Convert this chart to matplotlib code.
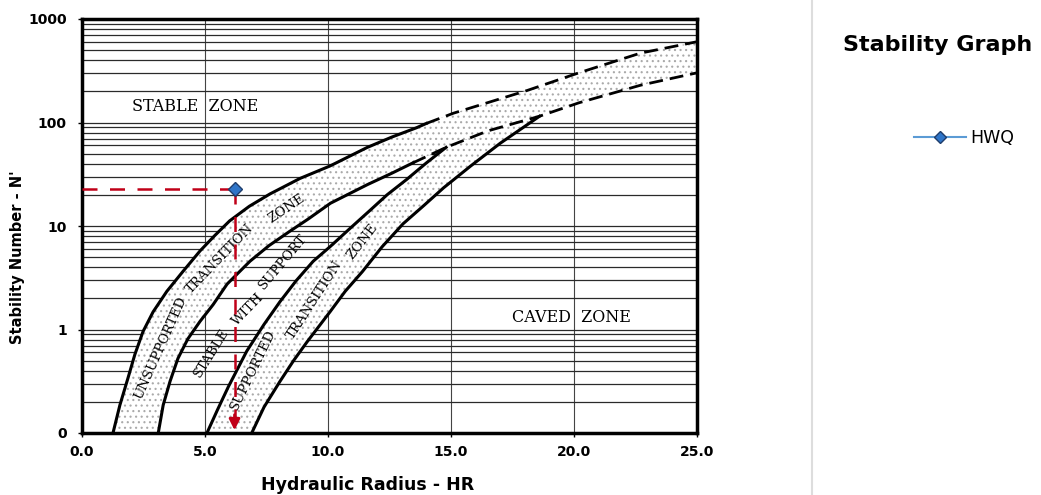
"""Mathews stability graph with the HWQ design point."""
import matplotlib

matplotlib.use("Agg")
import matplotlib.pyplot as plt
import numpy as np
from matplotlib.lines import Line2D
from matplotlib.ticker import FixedLocator, FixedFormatter, LogLocator, NullFormatter

# --- data ------------------------------------------------------------------
# unsupported transition zone, upper/left boundary (solid part)
C1_HR = [1.26, 1.54, 1.87, 2.15, 2.48, 2.89, 3.45, 4.1, 4.8, 5.4, 6.0, 6.8,
         7.64, 8.86, 10.08, 11.6, 12.6, 13.6, 14.0]
C1_N = [0.1, 0.186, 0.34, 0.575, 0.955, 1.48, 2.34, 3.63, 5.75, 8.1, 11.2, 15.5,
        20.4, 28.8, 38, 57.5, 72.4, 89, 98]
# its dashed extrapolation
C1X_HR = [14.0, 15.1, 18.1, 20.2, 22.7, 25.0]
C1X_N = [98, 123, 204, 302, 468, 603]
# unsupported transition zone, lower/right boundary (solid part)
C2_HR = [3.1, 3.3, 3.58, 3.9, 4.3, 4.8, 5.33, 5.9, 6.83, 7.6, 8.45, 9.2, 10.1,
         11.6, 12.6, 13.45]
C2_N = [0.1, 0.186, 0.316, 0.525, 0.81, 1.2, 1.74, 2.75, 4.57, 6.46, 8.9, 11.7,
        16.6, 25.1, 32.4, 40.7]
# its dashed extrapolation
C2X_HR = [13.45, 14.8, 16.5, 18.6, 20.2, 22.7, 25.0]
C2X_N = [40.7, 57.5, 83, 115, 155, 229, 302]
# supported transition zone, left boundary
C3_HR = [5.08, 5.5, 5.95, 6.7, 7.4, 8.05, 8.7, 9.4, 10.08, 10.9, 11.7, 12.4,
         13.2, 14.0, 14.8]
C3_N = [0.1, 0.166, 0.28, 0.62, 1.12, 1.86, 2.95, 4.57, 6.3, 9.5, 14.1, 20,
        28.2, 40.7, 57.5]
# supported transition zone, right boundary
C4_HR = [6.9, 7.4, 8.05, 8.6, 9.15, 10.08, 10.7, 11.4, 12.2, 13.05, 13.9, 14.7,
         15.8, 17.0, 18.6]
C4_N = [0.1, 0.178, 0.316, 0.5, 0.76, 1.48, 2.34, 3.63, 6.3, 10.5, 15.8, 23.4,
        38, 63, 115]

HWQ_HR = [6.2]
HWQ_N = [23]

X_TICKS = [0, 5, 10, 15, 20, 25]
X_TICK_LABELS = ["0.0", "5.0", "10.0", "15.0", "20.0", "25.0"]
Y_TICKS = [0.1, 1, 10, 100, 1000]
Y_TICK_LABELS = ["0", "1", "10", "100", "1000"]

RED = "#c00018"
STIPPLE = "#aaaaaa"
SERIF = ["DejaVu Serif"]

plt.rcParams["font.family"] = ["DejaVu Sans"]
plt.rcParams["hatch.linewidth"] = 0.8

fig = plt.figure(figsize=(10.41, 4.95), dpi=100)
ax = fig.add_axes([82 / 1041, 1 - 433 / 495, 615 / 1041, 414 / 495])
ax.set_yscale("log")
ax.set_xlim(0, 25)
ax.set_ylim(0.1, 1000)

# grid like the scanned chart paper
ax.yaxis.set_minor_locator(LogLocator(base=10, subs=np.arange(2, 10)))
ax.yaxis.set_minor_formatter(NullFormatter())
ax.grid(True, which="both", axis="y", color="#2a2a2a", lw=0.9)
ax.grid(True, which="major", axis="x", color="#444444", lw=0.8)
ax.set_axisbelow(True)

# stippled bands
unsup_x = np.concatenate([C1_HR, C1X_HR[1:], C2X_HR[::-1], C2_HR[-2::-1]])
unsup_y = np.concatenate([C1_N, C1X_N[1:], C2X_N[::-1], C2_N[-2::-1]])
ax.fill(unsup_x, unsup_y, facecolor="white", edgecolor=STIPPLE, hatch="...",
        lw=0, zorder=2)
lo = [i for i, v in enumerate(C2X_HR) if C3_HR[-1] < v <= C4_HR[-1]]
sup_x = np.concatenate([C3_HR, [C2X_HR[i] for i in lo], C4_HR[::-1]])
sup_y = np.concatenate([C3_N, [C2X_N[i] for i in lo], C4_N[::-1]])
ax.fill(sup_x, sup_y, facecolor="white", edgecolor=STIPPLE, hatch="...",
        lw=0, zorder=2)

# boundaries
for hr, n in [(C1_HR, C1_N), (C2_HR, C2_N), (C3_HR, C3_N), (C4_HR, C4_N)]:
    ax.plot(hr, n, color="black", lw=2.2, solid_joinstyle="round", zorder=3)
for hr, n in [(C1X_HR, C1X_N), (C2X_HR, C2X_N)]:
    ax.plot(hr, n, color="black", lw=2.0, dashes=(5, 2.5), zorder=3)

# zone labels (serif, like the scanned chart)
ax.text(4.6, 143, "STABLE  ZONE", family=SERIF, fontsize=11.5,
        ha="center", va="center", zorder=4)
ax.text(19.9, 1.31, "CAVED  ZONE", family=SERIF, fontsize=11.5,
        ha="center", va="center", zorder=4)
words = [
    (3.21, 0.66, "UNSUPPORTED", 66), (5.61, 4.8, "TRANSITION", 46),
    (8.3, 14.9, "ZONE", 34),
    (5.28, 0.59, "STABLE", 58), (6.75, 1.56, "WITH", 46), (8.17, 4.5, "SUPPORT", 50),
    (6.95, 0.41, "SUPPORTED", 64), (9.47, 1.95, "TRANSITION", 57),
    (11.4, 7.1, "ZONE", 52),
]
for x, y, s, rot in words:
    ax.text(x, y, s, rotation=rot, family=SERIF, fontsize=9.5,
            ha="center", va="center", rotation_mode="anchor", zorder=4)

# HWQ design point with red guide lines
ax.plot([0, HWQ_HR[0]], [HWQ_N[0], HWQ_N[0]], color=RED, lw=1.8,
        dashes=(6, 5), zorder=5)
ax.plot([HWQ_HR[0], HWQ_HR[0]], [HWQ_N[0], 0.13], color=RED, lw=1.8,
        dashes=(6, 5), zorder=5)
ax.annotate("", xy=(HWQ_HR[0], 0.1), xytext=(HWQ_HR[0], 0.16),
            arrowprops=dict(arrowstyle="-|>", color=RED, lw=2,
                            mutation_scale=16), zorder=5)
ax.plot(HWQ_HR, HWQ_N, marker="D", ms=7, color="#5b9bd5", mfc="#2f75c8",
        mec="#1f3d6b", lw=1.5, zorder=6)

# axes styling
for sp in ax.spines.values():
    sp.set_linewidth(2.5)
ax.xaxis.set_major_locator(FixedLocator(X_TICKS))
ax.xaxis.set_major_formatter(FixedFormatter(X_TICK_LABELS))
ax.yaxis.set_major_locator(FixedLocator(Y_TICKS))
ax.yaxis.set_major_formatter(FixedFormatter(Y_TICK_LABELS))
ax.tick_params(which="major", length=3, width=1, labelsize=10)
ax.tick_params(axis="y", pad=8)
ax.tick_params(axis="x", pad=6)
ax.tick_params(which="minor", length=0)
for lab in ax.get_xticklabels() + ax.get_yticklabels():
    lab.set_fontweight("bold")

ax.set_xlabel("Hydraulic Radius - HR", fontsize=12.5, fontweight="bold")
ax.xaxis.set_label_coords((368 - 82) / 615, -0.104)
ax.set_ylabel("Stability Number - N'", fontsize=10.5, fontweight="bold")
ax.yaxis.set_label_coords(-0.092, 1 - (257 - 19) / 414)

# right-hand panel: separator, title, legend
fig.add_artist(Line2D([812 / 1041] * 2, [0, 1], color="#dddddd", lw=1.5))
fig.text(938 / 1041, 1 - 45 / 495, "Stability Graph", fontsize=16,
         fontweight="bold", ha="center", va="center")
handle = Line2D([], [], marker="D", ms=6, color="#5b9bd5", mfc="#2f75c8",
                mec="#1f3d6b", lw=1.5)
fig.legend([handle], ["HWQ"], loc="center left", frameon=False,
           bbox_to_anchor=(898 / 1041, 1 - 138 / 495), handlelength=3.0,
           handletextpad=0.25, fontsize=12.5)

fig.savefig("out.png", dpi=100)
